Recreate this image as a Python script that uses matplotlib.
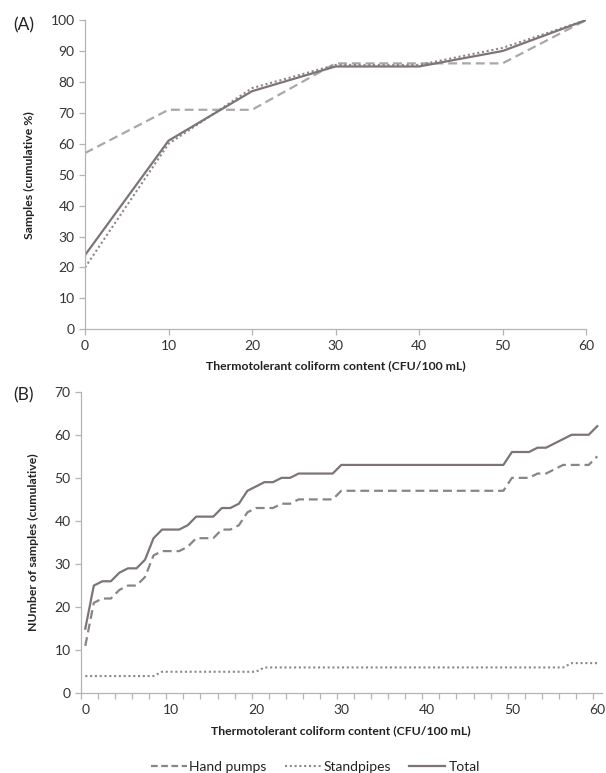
import numpy as np
import matplotlib.pyplot as plt
from matplotlib.lines import Line2D

plt.rcParams['font.family'] = ['Lato', 'DejaVu Sans']

# Panel A: cumulative percentage of samples
x_a = [0, 10, 20, 30, 40, 50, 60]
hand_pct = [57, 71, 71, 86, 86, 86, 100]
stand_pct = [20, 60, 78, 85.5, 85.5, 91, 100]
total_pct = [24, 61, 77, 85, 85, 90, 100]

# Panel B: cumulative number of samples per CFU/100 mL value (0..60)
x_b = list(range(61))
hand_n = [11, 21, 22, 22, 24, 25, 25, 27, 32, 33, 33, 33, 34, 36, 36, 36, 38, 38, 39, 42,
          43, 43, 43, 44, 44, 45, 45, 45, 45, 45, 47, 47, 47, 47, 47, 47, 47, 47, 47, 47,
          47, 47, 47, 47, 47, 47, 47, 47, 47, 47, 50, 50, 50, 51, 51, 52, 53, 53, 53, 53,
          55]
stand_n = [4, 4, 4, 4, 4, 4, 4, 4, 4, 5, 5, 5, 5, 5, 5, 5, 5, 5, 5, 5,
           5, 6, 6, 6, 6, 6, 6, 6, 6, 6, 6, 6, 6, 6, 6, 6, 6, 6, 6, 6,
           6, 6, 6, 6, 6, 6, 6, 6, 6, 6, 6, 6, 6, 6, 6, 6, 6, 7, 7, 7,
           7]
total_n = [15, 25, 26, 26, 28, 29, 29, 31, 36, 38, 38, 38, 39, 41, 41, 41, 43, 43, 44, 47,
           48, 49, 49, 50, 50, 51, 51, 51, 51, 51, 53, 53, 53, 53, 53, 53, 53, 53, 53, 53,
           53, 53, 53, 53, 53, 53, 53, 53, 53, 53, 56, 56, 56, 57, 57, 58, 59, 60, 60, 60,
           62]

xlabel = 'Thermotolerant coliform content (CFU/100 mL)'
spine_col = '#b4b4b4'
text_col = '#333333'
solid_col = '#7d7575'
dash_col = '#8a8484'
dash_col_a = '#a8a8a8'
dot_col = '#8c8888'


def style_axes(ax):
    for s in ['top', 'right']:
        ax.spines[s].set_visible(False)
    for s in ['left', 'bottom']:
        ax.spines[s].set_color(spine_col)
        ax.spines[s].set_linewidth(0.9)
    ax.tick_params(colors=spine_col, labelcolor=text_col, labelsize=10,
                   length=4, width=0.9, direction='out')


fig = plt.figure(figsize=(6.06, 7.73), dpi=100)

# (A)
ax1 = fig.add_axes([0.1403, 0.574, 0.8267, 0.4])
ax1.plot(x_a, hand_pct, color=dash_col_a, lw=1.6, ls=(0, (4, 2.2)))
ax1.plot(x_a, stand_pct, color=dot_col, lw=1.5, ls=(0, (1, 1.3)))
ax1.plot(x_a, total_pct, color=solid_col, lw=1.6)
ax1.set_xlim(0, 60)
ax1.set_ylim(0, 100)
ax1.set_xticks(np.arange(0, 61, 10))
ax1.set_yticks(np.arange(0, 101, 10))
style_axes(ax1)
ax1.set_xlabel(xlabel, fontsize=8.8, fontweight='bold', color='#222222', labelpad=6)
ax1.set_ylabel('Samples (cumulative %)', fontsize=8.8, fontweight='bold', color='#222222', labelpad=11)
fig.text(0.022, 0.967, '(A)', fontsize=12.5, color='#222222', va='center')

# (B)
ax2 = fig.add_axes([0.1337, 0.1031, 0.8589, 0.3902])
ax2.plot(x_b, hand_n, color=dash_col, lw=1.6, ls=(0, (4, 2.2)), label='Hand pumps')
ax2.plot(x_b, stand_n, color=dot_col, lw=1.5, ls=(0, (1, 1.3)), label='Standpipes')
ax2.plot(x_b, total_n, color=solid_col, lw=1.6, label='Total')
ax2.set_xlim(-0.5, 60.5)
ax2.set_ylim(0, 70)
ax2.set_yticks(np.arange(0, 71, 10))
ax2.set_xticks(np.arange(0, 61, 10))
ax2.set_xticks(np.arange(-0.5, 61, 2), minor=True)
style_axes(ax2)
ax2.tick_params(axis='x', which='major', length=0, pad=8)
ax2.tick_params(axis='x', which='minor', length=4, width=0.9, color=spine_col)
ax2.set_xlabel(xlabel, fontsize=8.8, fontweight='bold', color='#222222', labelpad=6)
ax2.set_ylabel('NUmber of samples (cumulative)', fontsize=8.8, fontweight='bold', color='#222222', labelpad=11)
fig.text(0.022, 0.489, '(B)', fontsize=12.5, color='#222222', va='center')

handles = [
    Line2D([], [], color=dash_col, lw=1.6, ls=(0, (3, 1.6))),
    Line2D([], [], color=dot_col, lw=1.5, ls=(0, (1, 1.3))),
    Line2D([], [], color=solid_col, lw=1.6),
]
fig.legend(handles, ['Hand pumps', 'Standpipes', 'Total'], loc='center',
           bbox_to_anchor=(0.52, 0.008), ncol=3, frameon=False, fontsize=10,
           handlelength=2.6, handletextpad=0.2, columnspacing=1.3,
           labelcolor='#222222')

fig.savefig('out.png', dpi=100)
